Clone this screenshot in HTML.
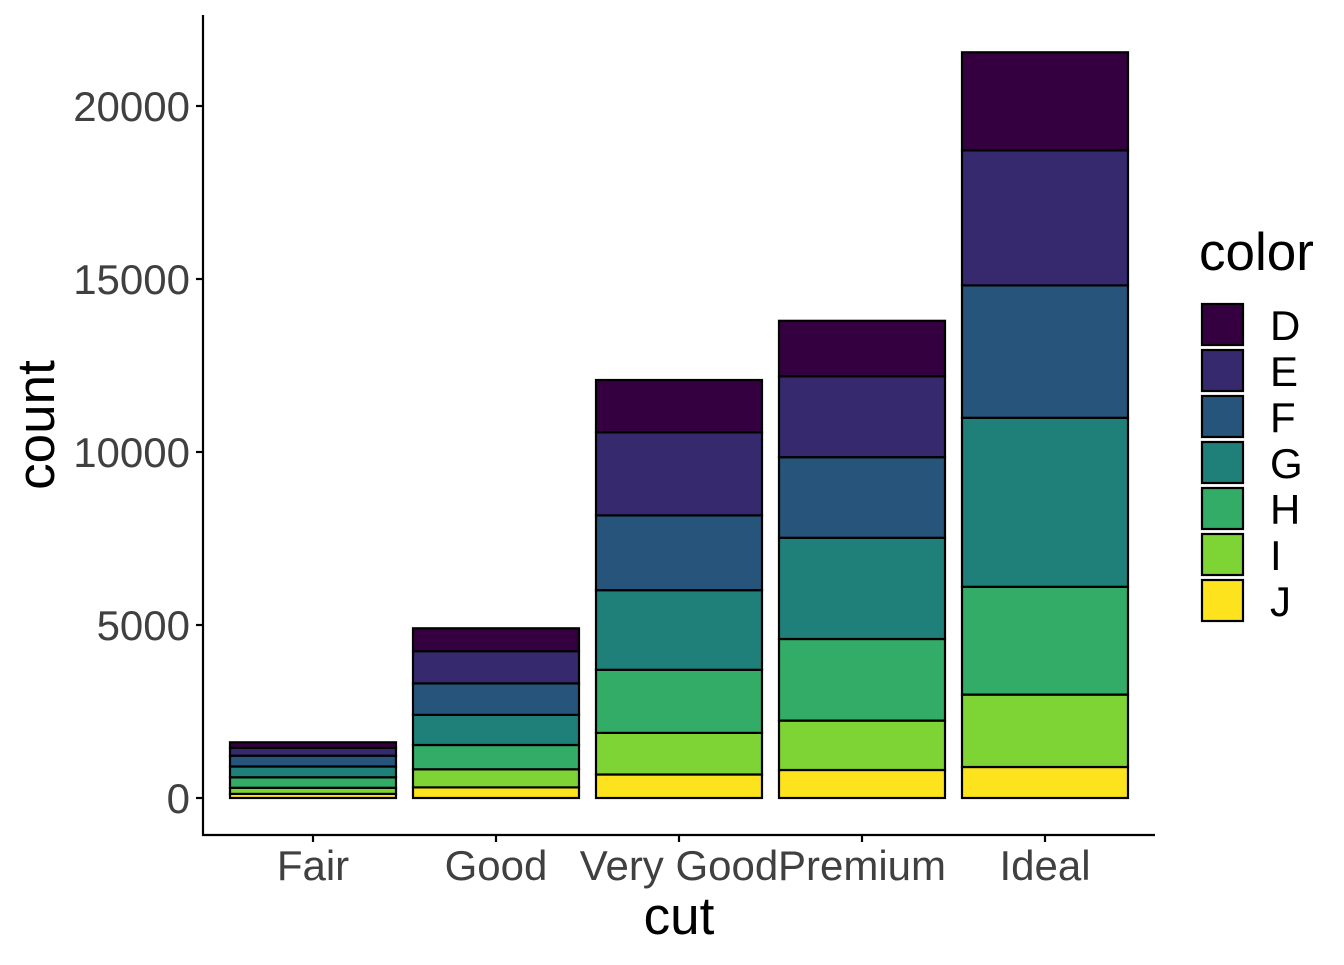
<!DOCTYPE html>
<html><head><style>body{margin:0;background:#fff}</style></head><body>
<svg width="1344" height="960" xmlns="http://www.w3.org/2000/svg" font-family="Liberation Sans, sans-serif">
<rect width="1344" height="960" fill="#fff"/>
<g stroke="#000" stroke-width="2.2">
<rect x="230" y="793.9" width="166" height="4.1" fill="#FDE31E"/>
<rect x="230" y="787.8" width="166" height="6.1" fill="#7FD435"/>
<rect x="230" y="777.3" width="166" height="10.5" fill="#32AC66"/>
<rect x="230" y="766.5" width="166" height="10.8" fill="#1F807A"/>
<rect x="230" y="755.7" width="166" height="10.8" fill="#26547A"/>
<rect x="230" y="747.9" width="166" height="7.8" fill="#36296E"/>
<rect x="230" y="742.3" width="166" height="5.6" fill="#34003F"/>
<rect x="413" y="787.4" width="166" height="10.6" fill="#FDE31E"/>
<rect x="413" y="769.3" width="166" height="18.1" fill="#7FD435"/>
<rect x="413" y="745.0" width="166" height="24.3" fill="#32AC66"/>
<rect x="413" y="714.9" width="166" height="30.1" fill="#1F807A"/>
<rect x="413" y="683.4" width="166" height="31.5" fill="#26547A"/>
<rect x="413" y="651.2" width="166" height="32.2" fill="#36296E"/>
<rect x="413" y="628.3" width="166" height="22.9" fill="#34003F"/>
<rect x="596" y="774.5" width="166" height="23.5" fill="#FDE31E"/>
<rect x="596" y="732.9" width="166" height="41.6" fill="#7FD435"/>
<rect x="596" y="669.8" width="166" height="63.1" fill="#32AC66"/>
<rect x="596" y="590.2" width="166" height="79.6" fill="#1F807A"/>
<rect x="596" y="515.4" width="166" height="74.8" fill="#26547A"/>
<rect x="596" y="432.3" width="166" height="83.1" fill="#36296E"/>
<rect x="596" y="380.0" width="166" height="52.3" fill="#34003F"/>
<rect x="779" y="770.0" width="166" height="28.0" fill="#FDE31E"/>
<rect x="779" y="720.6" width="166" height="49.4" fill="#7FD435"/>
<rect x="779" y="639.0" width="166" height="81.6" fill="#32AC66"/>
<rect x="779" y="537.8" width="166" height="101.2" fill="#1F807A"/>
<rect x="779" y="457.2" width="166" height="80.6" fill="#26547A"/>
<rect x="779" y="376.3" width="166" height="80.9" fill="#36296E"/>
<rect x="779" y="320.8" width="166" height="55.5" fill="#34003F"/>
<rect x="962" y="767.0" width="166" height="31.0" fill="#FDE31E"/>
<rect x="962" y="694.6" width="166" height="72.4" fill="#7FD435"/>
<rect x="962" y="586.8" width="166" height="107.8" fill="#32AC66"/>
<rect x="962" y="417.8" width="166" height="169.0" fill="#1F807A"/>
<rect x="962" y="285.4" width="166" height="132.4" fill="#26547A"/>
<rect x="962" y="150.4" width="166" height="135.0" fill="#36296E"/>
<rect x="962" y="52.3" width="166" height="98.1" fill="#34003F"/>
</g>
<g stroke="#000" stroke-width="2.2">
<line x1="203" y1="15" x2="203" y2="836"/>
<line x1="202" y1="835" x2="1155" y2="835"/>
<line x1="196" y1="798" x2="203" y2="798"/>
<line x1="196" y1="625" x2="203" y2="625"/>
<line x1="196" y1="452" x2="203" y2="452"/>
<line x1="196" y1="279" x2="203" y2="279"/>
<line x1="196" y1="106" x2="203" y2="106"/>
<line x1="313" y1="835" x2="313" y2="842"/>
<line x1="496" y1="835" x2="496" y2="842"/>
<line x1="679" y1="835" x2="679" y2="842"/>
<line x1="862" y1="835" x2="862" y2="842"/>
<line x1="1045" y1="835" x2="1045" y2="842"/>
</g>
<g fill="#404040" font-size="42" text-anchor="end">
<text x="190" y="813">0</text>
<text x="190" y="640">5000</text>
<text x="190" y="467">10000</text>
<text x="190" y="294">15000</text>
<text x="190" y="121">20000</text>
</g>
<g fill="#404040" font-size="42" text-anchor="middle">
<text x="313" y="880">Fair</text>
<text x="496" y="880">Good</text>
<text x="679" y="880">Very Good</text>
<text x="862" y="880">Premium</text>
<text x="1045" y="880">Ideal</text>
</g>
<text x="679" y="934" font-size="53" text-anchor="middle">cut</text>
<text transform="translate(54,425) rotate(-90)" font-size="53" text-anchor="middle">count</text>
<text x="1199" y="270" font-size="53">color</text>
<g stroke="#000" stroke-width="2.2">
<rect x="1202" y="304" width="41" height="41" fill="#34003F"/>
<rect x="1202" y="350" width="41" height="41" fill="#36296E"/>
<rect x="1202" y="396" width="41" height="41" fill="#26547A"/>
<rect x="1202" y="442" width="41" height="41" fill="#1F807A"/>
<rect x="1202" y="488" width="41" height="41" fill="#32AC66"/>
<rect x="1202" y="534" width="41" height="41" fill="#7FD435"/>
<rect x="1202" y="580" width="41" height="41" fill="#FDE31E"/>
</g>
<g font-size="42">
<text x="1270" y="340">D</text>
<text x="1270" y="386">E</text>
<text x="1270" y="432">F</text>
<text x="1270" y="478">G</text>
<text x="1270" y="524">H</text>
<text x="1270" y="570">I</text>
<text x="1270" y="616">J</text>
</g>
</svg>
</body></html>
